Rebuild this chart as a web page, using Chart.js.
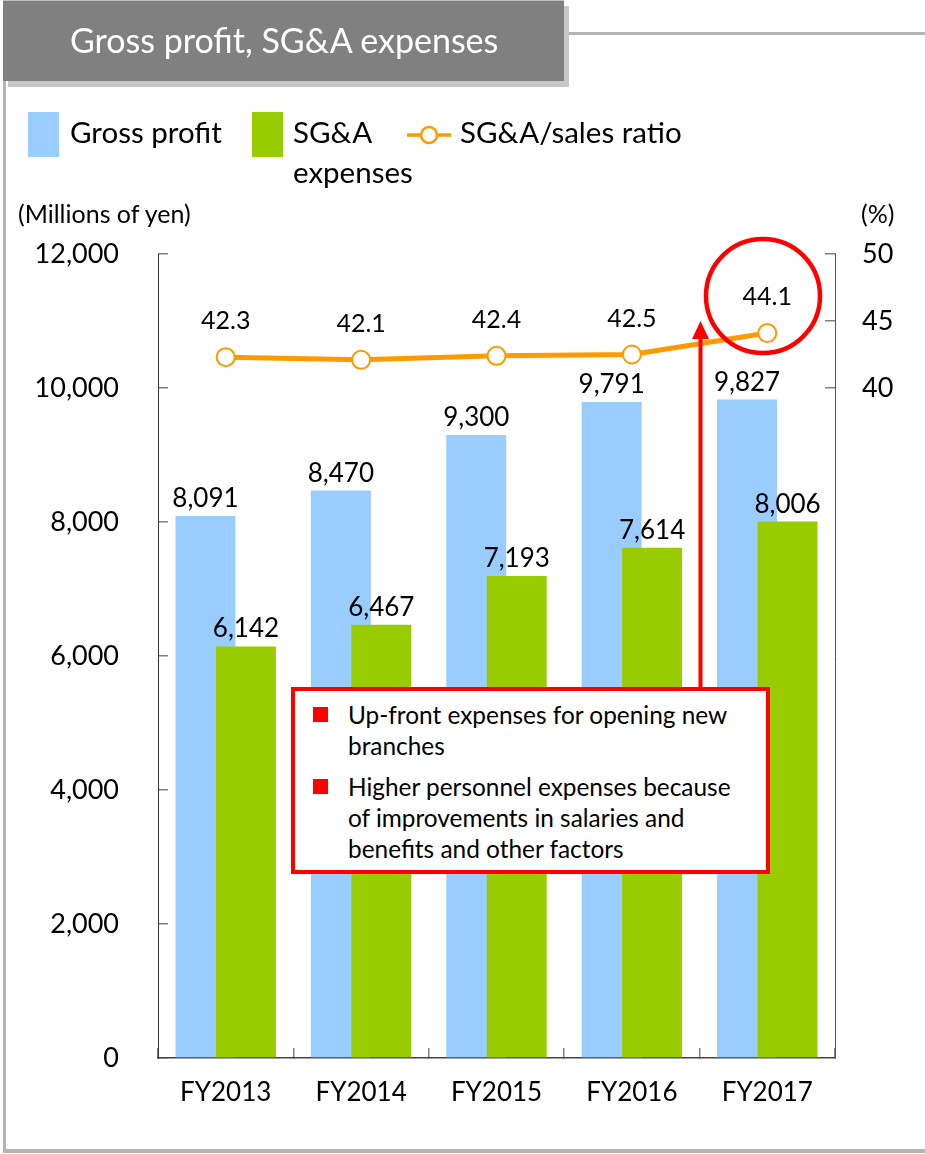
<!DOCTYPE html>
<html><head><meta charset="utf-8">
<script src="https://cdn.jsdelivr.net/npm/chart.js@4"></script>
<style>
html,body{margin:0;padding:0;background:#fff;}
#wrap{position:relative;width:925px;height:1154px;overflow:hidden;font-family:Lato, sans-serif;}
.abs{position:absolute;}
.t{position:absolute;white-space:nowrap;line-height:1.2;color:#000;font-family:Lato, sans-serif;}
</style></head>
<body><div id="wrap">
<div class="abs" style="left:8px;top:6px;width:561px;height:81px;background:#c8c8c8"></div>
<div class="abs" style="left:3px;top:0px;width:561px;height:81px;background:#808080;border-top:1px solid #c0c0c0;box-sizing:border-box"></div>
<div class="abs" style="left:569px;top:32px;width:356px;height:3px;background:#b4b4b4"></div>
<div class="abs" style="left:3px;top:81px;width:3px;height:1072px;background:#b4b4b4"></div>
<div class="abs" style="left:3px;top:1149px;width:922px;height:4px;background:#b4b4b4"></div>
<canvas id="c" width="925" height="1154" style="position:absolute;left:0;top:0"></canvas>
<div class="t" style="left:70px;top:20px;font-size:34px;color:#fff">Gross profit, SG&amp;A expenses</div>

<div class="abs" style="left:28px;top:112px;width:31px;height:45px;background:#99CCFF"></div>
<div class="t" style="left:70px;top:114px;font-size:29.5px">Gross profit</div>
<div class="abs" style="left:252px;top:112px;width:31px;height:45px;background:#99CC00"></div>
<div class="t" style="left:293px;top:114px;font-size:29.5px">SG&amp;A</div>
<div class="t" style="left:293px;top:154px;font-size:29.5px">expenses</div>
<svg class="abs" style="left:0;top:0" width="925" height="200">
  <line x1="407" y1="135" x2="451" y2="135" stroke="#FF9900" stroke-width="3.5"/>
  <circle cx="429" cy="135" r="8" fill="#fff" stroke="#FF9900" stroke-width="2.5"/>
</svg>
<div class="t" style="left:460px;top:114px;font-size:29.5px">SG&amp;A/sales ratio</div>
<div class="t" style="left:18px;top:198px;font-size:25px">(Millions of yen)</div>
<div class="t" style="left:861px;top:198px;font-size:25px">(%)</div>

<div class="abs" style="left:291px;top:687px;width:479px;height:187px;border:4px solid #FF0000;box-sizing:border-box;background:#fff"></div>
<div class="abs" style="left:313px;top:707px;width:15px;height:15px;background:#FF0000"></div>
<div class="abs" style="left:313px;top:779px;width:15px;height:15px;background:#FF0000"></div>
<div class="t" style="left:348px;top:700px;font-size:24.4px">Up-front expenses for opening new</div>
<div class="t" style="left:348px;top:731px;font-size:24.4px">branches</div>
<div class="t" style="left:348px;top:772px;font-size:24.4px">Higher personnel expenses because</div>
<div class="t" style="left:348px;top:803px;font-size:24.4px">of improvements in salaries and</div>
<div class="t" style="left:348px;top:834px;font-size:24.4px">benefits and other factors</div>

<svg class="abs" style="left:0;top:0" width="925" height="1154">
  <line x1="700.5" y1="687" x2="700.5" y2="334" stroke="#FF0000" stroke-width="4"/>
  <polygon points="700.5,321 692,339 709,339" fill="#FF0000"/>
  <circle cx="763" cy="296" r="57" fill="none" stroke="#FF0000" stroke-width="4.5"/>
</svg>
</div>
<script>
const categories = ['FY2013', 'FY2014', 'FY2015', 'FY2016', 'FY2017'];
const grossProfit = [8091, 8470, 9300, 9791, 9827];
const sgaExpenses = [6142, 6467, 7193, 7614, 8006];
const sgaRatio = [42.3, 42.1, 42.4, 42.5, 44.1];
const leftTicks = [0, 2000, 4000, 6000, 8000, 10000, 12000];
const rightTicks = [40, 45, 50];

const fmt = v => v.toLocaleString('en-US');

Chart.defaults.font.family = 'Lato, sans-serif';
Chart.defaults.color = '#000';

const valueLabels = {
  id: 'valueLabels',
  afterDatasetsDraw(chart) {
    const ctx = chart.ctx;
    ctx.save();
    ctx.fillStyle = '#000';
    ctx.font = '26px Lato, sans-serif';
    ctx.textAlign = 'center';
    [[0, grossProfit], [1, sgaExpenses]].forEach(([di, vals]) => {
      chart.getDatasetMeta(di).data.forEach((el, i) => {
        ctx.textBaseline = 'alphabetic';
        ctx.fillText(fmt(vals[i]), el.x, el.y - 9);
      });
    });
    ctx.font = '25px Lato, sans-serif';
    chart.getDatasetMeta(2).data.forEach((el, i) => {
      ctx.textBaseline = 'middle';
      ctx.fillText(sgaRatio[i].toFixed(1), el.x, el.y - 36);
    });
    ctx.restore();
  }
};

// draw the SG&A bars after (on top of) the gross profit bars
const drawOrder = {
  id: 'drawOrder',
  beforeDatasetDraw(chart, args) {
    if (args.index === 1) return false;
  },
  afterDatasetDraw(chart, args) {
    if (args.index === 0) chart.getDatasetMeta(1).controller.draw();
  }
};

const barCommon = { categoryPercentage: 0.598, barPercentage: 1.48, borderWidth: 0 };

new Chart(document.getElementById('c'), {
  type: 'bar',
  data: {
    labels: categories,
    datasets: [
      { ...barCommon, label: 'Gross profit', data: grossProfit, backgroundColor: '#99CCFF', yAxisID: 'y', order: 1 },
      { ...barCommon, label: 'SG&A expenses', data: sgaExpenses, backgroundColor: '#99CC00', yAxisID: 'y', order: 1 },
      { type: 'line', label: 'SG&A/sales ratio', data: sgaRatio, yAxisID: 'y2', order: 0,
        borderColor: '#FF9900', borderWidth: 5, pointRadius: 9, pointHoverRadius: 9,
        pointBackgroundColor: '#fff', pointBorderColor: '#FF9900', pointBorderWidth: 2, tension: 0 }
    ]
  },
  options: {
    responsive: false,
    animation: false,
    devicePixelRatio: 1,
    layout: { padding: { top: 254, left: 0, right: 0, bottom: 0 } },
    plugins: { legend: { display: false }, tooltip: { enabled: false } },
    scales: {
      x: {
        type: 'category', position: 'bottom', offset: true,
        grid: { offset: true, drawOnChartArea: false, drawTicks: true, tickLength: -10, color: '#808080', lineWidth: 1.5 },
        border: { display: true, color: '#444', width: 1.5 },
        ticks: { font: { size: 26 }, padding: 29, color: '#000' },
        afterFit: s => { s.height = 96; }
      },
      y: {
        position: 'left', min: 0, max: 12000,
        afterBuildTicks: s => { s.ticks = leftTicks.map(v => ({ value: v })); },
        grid: { drawOnChartArea: false, drawTicks: true, tickLength: -10, color: '#808080', lineWidth: 1.5 },
        border: { display: true, color: '#333', width: 1 },
        ticks: { font: { size: 27 }, padding: 49, color: '#000', callback: v => fmt(v) },
        afterFit: s => { s.width = 158; }
      },
      y2: {
        position: 'right', min: -10, max: 50,
        afterBuildTicks: s => { s.ticks = rightTicks.map(v => ({ value: v })); },
        grid: { drawOnChartArea: false, drawTicks: true, tickLength: -10, color: '#808080', lineWidth: 1.5 },
        border: { display: true, color: '#555', width: 1 },
        ticks: { font: { size: 27 }, padding: 37, color: '#000', callback: v => String(v) },
        afterFit: s => { s.width = 90; }
      }
    }
  },
  plugins: [drawOrder, valueLabels]
});
</script>
</body></html>
